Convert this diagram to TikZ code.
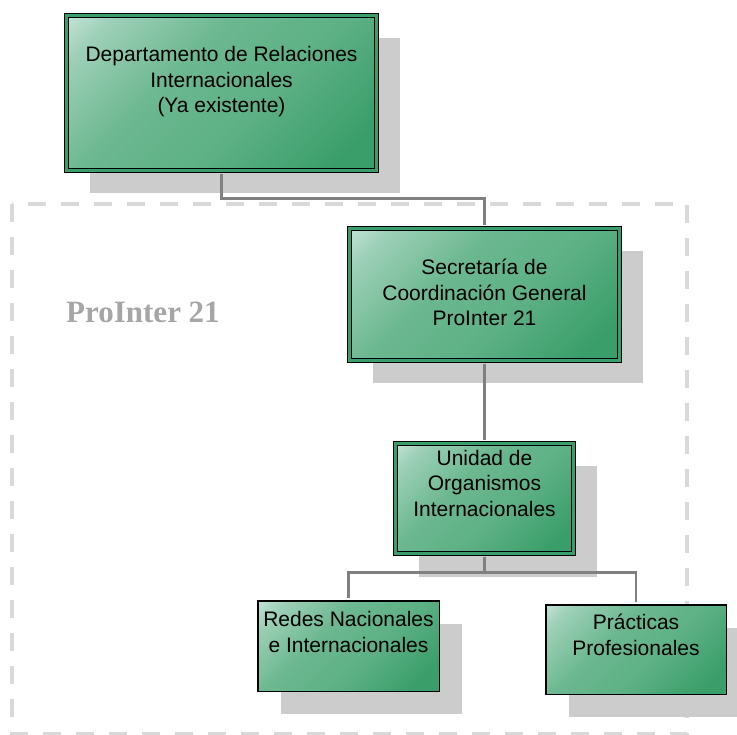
\documentclass[tikz,border=0pt]{standalone}
\usepackage{fontspec}
\setmainfont{Liberation Sans}
\newfontfamily\titlefont{Liberation Serif}
\usetikzlibrary{shadows}
\definecolor{boxdark}{RGB}{58,158,106}
\definecolor{boxmid}{RGB}{108,184,144}
\definecolor{boxlight}{RGB}{230,243,242}
\definecolor{shadowgray}{RGB}{204,204,204}
\definecolor{linkgray}{RGB}{128,128,128}
\definecolor{framegray}{RGB}{217,217,217}
\definecolor{titlegray}{RGB}{166,166,166}
\pgfdeclareverticalshading{boxshade}{100bp}{color(0bp)=(boxdark); color(22bp)=(boxdark); color(42bp)=(boxmid!70!boxdark); color(60bp)=(boxmid); color(78bp)=(boxmid!60!boxlight); color(92bp)=(boxlight); color(100bp)=(boxlight)}

\begin{document}
\begin{tikzpicture}[x=1pt,y=-1pt,
    unit/.style={rectangle, draw=black, shade, shading=boxshade, shading angle=45, inner sep=0pt,
      drop shadow={shadow xshift=23pt, shadow yshift=-23pt, fill=shadowgray, opacity=1}},
    dbl/.style={line width=1.3pt, double=boxdark, double distance=2.4pt},
    sgl/.style={line width=1.5pt}]
    \tikzset{txt/.style={anchor=north, inner sep=0pt, align=center, font=\fontsize{21}{25.5}\selectfont}}
    \tikzset{link/.style={draw=linkgray, line width=2.5pt, shorten <=2.5pt, shorten >=2.5pt},
    dashframe/.style={draw=framegray, line width=4pt, dash pattern=on 18pt off 15pt}}
    \useasboundingbox (0,0) rectangle (737,735);
    % ProInter frame
    \draw[dashframe] (12,204) rectangle (687,734);
    \node[anchor=base, text=titlegray, font=\titlefont\bfseries\fontsize{31}{37}\selectfont] (prointer) at (143,323) {ProInter 21};
    % boxes
    \node[unit, dbl, minimum width=310pt, minimum height=155pt] (dep) at (221.5,93) {};
    \node[unit, dbl, minimum width=270pt, minimum height=132pt] (sec) at (484.5,294.5) {};
    \node[unit, dbl, minimum width=178pt, minimum height=110pt] (uni) at (484.5,498.5) {};
    \node[unit, sgl, minimum width=181.5pt, minimum height=90.5pt] (redes) at (348.5,646) {};
    \node[unit, sgl, minimum width=180.5pt, minimum height=89.5pt] (prac) at (636,649.5) {};
    % links
    \draw[link] (dep.south) -- ++(0,27.5) -| (sec.north);
    \draw[link] (sec.south) -- (uni.north);
    \draw[link] (uni.south) -- ++(0,18.5) -| (redes.north);
    \draw[link] (uni.south) -- ++(0,18.5) -| (prac.north);
    % texts
    \node[txt] (dep-t) at (221.5,46.4) {Departamento de Relaciones\\Internacionales\\(Ya existente)};
    \node[txt] (sec-t) at (484.5,259) {Secretaría de\\Coordinación General\\ProInter 21};
    \node[txt] (uni-t) at (484.5,449.7) {Unidad de\\Organismos\\Internacionales};
    \node[txt] (redes-t) at (348.5,611.4) {Redes Nacionales\\e Internacionales};
    \node[txt] (prac-t) at (636,614) {Prácticas\\Profesionales};
\end{tikzpicture}
\end{document}
